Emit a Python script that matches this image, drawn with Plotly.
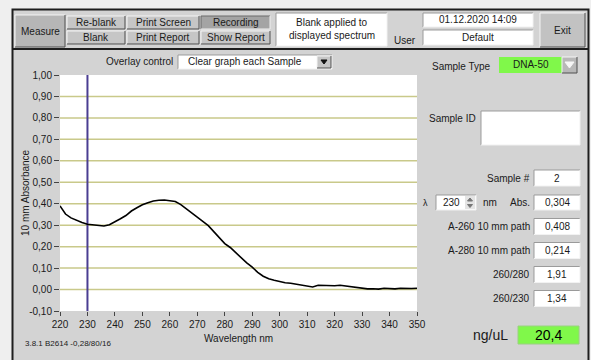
import plotly.graph_objects as go

# ---------------- data ----------------
wavelength_nm = [220, 222, 224, 226, 228, 230, 232, 234, 236, 238, 240, 242, 244, 246, 248,
                 250, 252, 254, 256, 258, 260, 262, 264, 266, 268, 270, 272, 274, 276, 278,
                 280, 282, 284, 286, 288, 290, 292, 294, 296, 298, 300, 302, 304, 306, 308,
                 310, 312, 314, 316, 318, 320, 322, 324, 326, 328, 330, 332, 334, 336, 338,
                 340, 342, 344, 346, 348, 350]
absorbance = [0.390, 0.352, 0.334, 0.322, 0.312, 0.304, 0.301, 0.297, 0.296, 0.302, 0.315,
              0.330, 0.345, 0.366, 0.381, 0.395, 0.405, 0.413, 0.416, 0.417, 0.414, 0.410,
              0.396, 0.377, 0.360, 0.340, 0.318, 0.298, 0.270, 0.243, 0.214, 0.196, 0.172,
              0.145, 0.124, 0.104, 0.080, 0.062, 0.050, 0.043, 0.037, 0.032, 0.029, 0.024,
              0.019, 0.015, 0.012, 0.020, 0.019, 0.021, 0.018, 0.020, 0.017, 0.014, 0.010,
              0.006, 0.003, 0.004, 0.002, 0.006, 0.004, 0.003, 0.006, 0.004, 0.005, 0.006]
lambda_nm = 230

x_tick_vals = [220, 230, 240, 250, 260, 270, 280, 290, 300, 310, 320, 330, 340, 350]
x_tick_text = ["220", "230", "240", "250", "260", "270", "280", "290", "300", "310",
               "320", "330", "340", "350"]
y_tick_vals = [-0.1, 0.0, 0.1, 0.2, 0.3, 0.4, 0.5, 0.6, 0.7, 0.8, 0.9, 1.0]
y_tick_text = ["-0,10", "0,00", "0,10", "0,20", "0,30", "0,40", "0,50", "0,60",
               "0,70", "0,80", "0,90", "1,00"]
grid_vals = [0.0, 0.1, 0.2, 0.3, 0.4, 0.5, 0.6, 0.7, 0.8, 0.9]

result_labels = ["Sample #", "A-260 10 mm path", "A-280 10 mm path", "260/280", "260/230"]
result_values = ["2", "0,408", "0,214", "1,91", "1,34"]
abs_value = "0,304"
concentration = "20,4"

# ---------------- geometry helpers ----------------
W, H = 591, 360
L, R, T, B = 60, 174, 75, 49
PW, PH = W - L - R, H - T - B

def px(x):
    return (x - L) / PW

def py(y):
    return (H - B - y) / PH

FONT = "'Liberation Sans', Arial, sans-serif"
FS = 10
PANEL = "#d3d3d3"
shapes = []
annots = []

def rect(x0, y0, x1, y1, fill, line=None, lw=1):
    shapes.append(dict(type="rect", xref="paper", yref="paper",
                       x0=px(x0), x1=px(x1), y0=py(y1), y1=py(y0),
                       fillcolor=fill, line=dict(color=line or fill, width=lw if line else 0),
                       layer="below"))

def path(pts, color, lw=1, fill=None):
    d = "M " + " L ".join(f"{px(a):.5f},{py(b):.5f}" for a, b in pts)
    if fill:
        d += " Z"
    shapes.append(dict(type="path", xref="paper", yref="paper", path=d,
                       line=dict(color=color, width=lw),
                       fillcolor=fill if fill else "rgba(0,0,0,0)", layer="below"))

def text(x, y, s, size=FS, anchor="center", color="#1a1a1a", angle=0):
    annots.append(dict(xref="paper", yref="paper", x=px(x), y=py(y), text=s,
                       showarrow=False, xanchor=anchor, yanchor="middle", textangle=angle,
                       font=dict(family=FONT, size=size, color=color)))

def button(x0, y0, x1, y1, label, fill="#c6c6c6", pressed=False):
    rect(x0, y0, x1, y1, fill)
    hi, sh = ("#6a6a6a", "#eeeeee") if pressed else ("#f4f4f4", "#505050")
    path([(x0, y1), (x0, y0), (x1, y0)], hi, 1)
    path([(x1, y0), (x1, y1), (x0, y1)], sh, 1)
    if label:
        text((x0 + x1) / 2, (y0 + y1) / 2, label)

def field(x0, y0, x1, y1, fill="#ffffff"):
    rect(x0, y0, x1, y1, fill)
    path([(x0, y1), (x0, y0), (x1, y0)], "#9a9a9a", 1)
    path([(x1, y0), (x1, y1), (x0, y1)], "#f2f2f2", 1)

# ---------------- frame ----------------
rect(0, 0, 591, 9, "#efefef")
rect(0, 0, 12, 360, "#efefef")
rect(589, 0, 591, 360, "#efefef")
path([(12.5, 360), (12.5, 9.5), (588.5, 9.5), (588.5, 360)], "#1e1e1e", 2)
path([(12.5, 49), (588.5, 49)], "#1e1e1e", 2)

# ---------------- header ----------------
button(15, 15, 65, 47, "Measure", fill="#b6b6b6")
button(67, 16, 125, 29, "Re-blank")
button(67, 31, 125, 44, "Blank")
button(127, 16, 199, 29, "Print Screen")
button(127, 31, 199, 44, "Print Report")
button(201, 16, 270, 29, "Recording", fill="#a4a4a4", pressed=True)
button(201, 31, 270, 44, "Show Report")
field(276, 13, 387, 46)
text(331.5, 23, "Blank applied to")
text(331.5, 35, "displayed spectrum")
text(405, 41, "User")
field(423, 13, 533, 27)
text(478, 20, "01.12.2020 14:09")
field(423, 30, 533, 45)
text(478, 37.5, "Default")
button(540, 13, 585, 47, "Exit", fill="#c2c2c2")

# ---------------- overlay control ----------------
text(175, 62, "Overlay control", anchor="right")
field(178, 55, 332, 69)
text(186, 62, "Clear graph each Sample", anchor="left")
button(317, 56, 331, 68, "")
path([(321, 60), (327, 60), (324, 64)], "#111111", 1, fill="#111111")

# ---------------- right panel ----------------
text(430, 66, "Sample Type", anchor="left")
rect(499, 57, 562, 73, "#80f84a")
text(530.5, 65, "DNA-50")
button(562, 57, 577, 73, "", fill="#b8b8b8")
path([(565, 62), (574, 62), (569.5, 68)], "#f6f6f6", 1, fill="#f6f6f6")

text(427, 118, "Sample ID", anchor="left")
field(481, 111, 580, 145)

row_y = {"Sample #": 178, "A-260 10 mm path": 226.5, "A-280 10 mm path": 250.5,
         "260/280": 274.5, "260/230": 298.5}
for lab, val in zip(result_labels, result_values):
    yc = row_y[lab]
    text(532, yc, lab, anchor="right")
    field(534, yc - 8, 580, yc + 8)
    text(557, yc, val)

# lambda / Abs row
text(426, 202.5, "λ", size=9)
field(436, 195, 476, 210)
text(451, 202.5, str(lambda_nm))
rect(465, 196, 475, 209, "#e4e4e4")
path([(467.5, 201), (472.5, 201), (470, 198)], "#777777", 1, fill="#777777")
path([(467.5, 204.5), (472.5, 204.5), (470, 207.5)], "#777777", 1, fill="#777777")
text(481, 202.5, "nm", anchor="left")
text(532, 202.5, "Abs.", anchor="right")
field(534, 195, 580, 210)
text(557, 202.5, abs_value)

text(490.5, 335, "ng/uL", size=14)
rect(518, 326, 579, 344, "#80f84a", line="#9ad080", lw=1)
text(548.5, 335, concentration, size=14, color="#000000")

# footer
text(23, 343, "3.8.1 B2614 -0,28/80/16", size=8, anchor="left")

# axis titles
text(25, 193, "10 mm Absorbance", angle=-90)
text(238, 338, "Wavelength nm")

# gridlines (data-space y)
for g in grid_vals:
    shapes.append(dict(type="line", xref="paper", yref="y", x0=0, x1=1, y0=g, y1=g,
                       line=dict(color="#c9c98a", width=1.5), layer="below"))

# ---------------- figure ----------------
fig = go.Figure()
fig.add_trace(go.Scatter(x=[lambda_nm, lambda_nm], y=[y_tick_vals[0], y_tick_vals[-1]],
                         mode="lines", line=dict(color="#4a3d92", width=2),
                         hoverinfo="skip"))
fig.add_trace(go.Scatter(x=wavelength_nm, y=absorbance, mode="lines",
                         line=dict(color="#000000", width=1.6), hoverinfo="skip"))

fig.update_layout(
    width=W, height=H, autosize=False,
    margin=dict(l=L, r=R, t=T, b=B, pad=0),
    paper_bgcolor=PANEL, plot_bgcolor="#ffffff",
    showlegend=False,
    font=dict(family=FONT, size=FS, color="#1a1a1a"),
    shapes=shapes, annotations=annots,
    xaxis=dict(range=[x_tick_vals[0], x_tick_vals[-1]], tickmode="array",
               tickvals=x_tick_vals, ticktext=x_tick_text, showgrid=False,
               zeroline=False, showline=False, ticks="outside", ticklen=4,
               tickcolor="#444444", tickfont=dict(size=FS, color="#1a1a1a")),
    yaxis=dict(range=[y_tick_vals[0], y_tick_vals[-1]], tickmode="array",
               tickvals=y_tick_vals, ticktext=y_tick_text, showgrid=False,
               zeroline=False, showline=False, ticks="outside", ticklen=5,
               tickcolor="#444444", tickfont=dict(size=FS, color="#1a1a1a")),
)

fig.write_html("out.html", config={"displayModeBar": False})
